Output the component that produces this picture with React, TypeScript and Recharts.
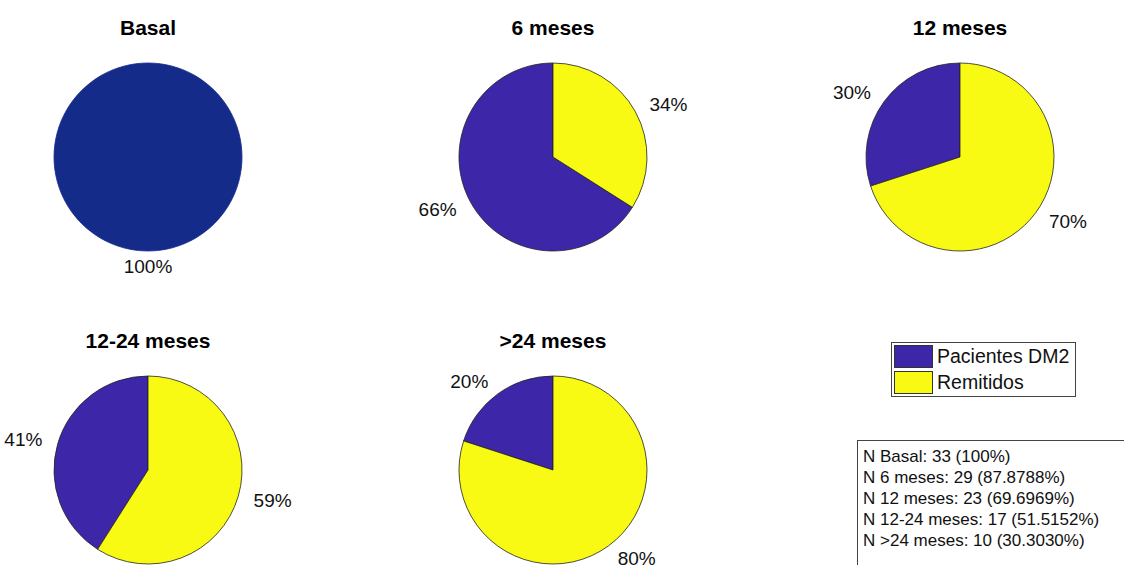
import { Cell, Pie, PieChart } from 'recharts'

const periods = ['Basal', '6 meses', '12 meses', '12-24 meses', '>24 meses']
const pacientesDM2 = [100, 66, 30, 41, 20]
const remitidos = [0, 34, 70, 59, 80]
const nCounts = [33, 29, 23, 17, 10]
const nPercents = ['100%', '87.8788%', '69.6969%', '51.5152%', '30.3030%']
const seriesNames = ['Pacientes DM2', 'Remitidos']

const PURPLE = '#3E26A8'
const YELLOW = '#F9FA14'
const NAVY = '#152B8A'
const FONT = '"Liberation Sans", Arial, sans-serif'

// grid slots (pixel layout of the subplots)
const slots = [
  { x: 148, y: 157 },
  { x: 553, y: 157 },
  { x: 960, y: 157 },
  { x: 148, y: 470 },
  { x: 553, y: 470 },
]
const R = 94

const RAD = Math.PI / 180

function renderLabel(props: any) {
  const { cx, cy, midAngle, outerRadius, percent } = props
  const r = outerRadius * 1.17
  const c = Math.cos(-midAngle * RAD)
  const x = cx + r * c
  const y = cy + r * Math.sin(-midAngle * RAD)
  const anchor = c > 0.15 ? 'start' : c < -0.15 ? 'end' : 'middle'
  return (
    <text x={x} y={y} textAnchor={anchor} dominantBaseline="central" fill="#111" fontSize={19} fontFamily={FONT}>
      {Math.round(percent * 100)}%
    </text>
  )
}

export default function App() {
  const pies = periods.map((name, i) => {
    const rows = [
      { name: seriesNames[0], value: pacientesDM2[i], color: i === 0 ? NAVY : PURPLE },
      { name: seriesNames[1], value: remitidos[i], color: YELLOW },
    ].filter(d => d.value > 0)
    return { name, rows }
  })

  return (
    <div style={{ position: 'absolute', left: 0, top: 0, width: 1124, height: 565, overflow: 'hidden', background: '#fff', fontFamily: FONT }}>
      <PieChart
        width={1124}
        height={565}
        margin={{ top: 0, right: 0, bottom: 0, left: 0 }}
        style={{ position: 'absolute', left: 0, top: 0 }}
      >
        {pies.map((p, i) => (
          <Pie
            key={p.name}
            data={p.rows}
            dataKey="value"
            nameKey="name"
            cx={slots[i].x}
            cy={slots[i].y}
            outerRadius={R}
            startAngle={90}
            endAngle={450}
            label={renderLabel}
            labelLine={false}
            isAnimationActive={false}
          >
            {p.rows.map(d => (
              <Cell key={d.name} fill={d.color} stroke={i === 0 ? NAVY : '#222'} strokeWidth={0.8} />
            ))}
          </Pie>
        ))}
      </PieChart>

      {pies.map((p, i) => (
        <div
          key={p.name}
          style={{
            position: 'absolute',
            left: slots[i].x - 120,
            width: 240,
            top: slots[i].y - 141,
            textAlign: 'center',
            fontWeight: 'bold',
            fontSize: 21,
            lineHeight: '24px',
            color: '#000',
          }}
        >
          {p.name}
        </div>
      ))}

      <div
        style={{
          position: 'absolute',
          left: 891,
          top: 342,
          width: 185,
          height: 55,
          border: '1px solid #444',
          background: '#fff',
          boxSizing: 'border-box',
          padding: '1px 2px',
        }}
      >
        {seriesNames.map((s, k) => (
          <div key={s} style={{ display: 'flex', alignItems: 'center', height: 25.5 }}>
            <div style={{ width: 39, height: 23, background: k === 0 ? PURPLE : YELLOW, border: '1px solid #333', boxSizing: 'border-box' }} />
            <span style={{ marginLeft: 4, fontSize: 19.5, color: '#111' }}>{s}</span>
          </div>
        ))}
      </div>

      <div
        style={{
          position: 'absolute',
          left: 857,
          top: 440,
          width: 300,
          height: 160,
          border: '1px solid #444',
          background: '#fff',
          boxSizing: 'border-box',
          padding: '5px 5px',
          fontSize: 17,
          lineHeight: '21px',
          color: '#111',
        }}
      >
        {periods.map((p, i) => (
          <div key={p}>{`N ${p}: ${nCounts[i]} (${nPercents[i]})`}</div>
        ))}
      </div>
    </div>
  )
}
